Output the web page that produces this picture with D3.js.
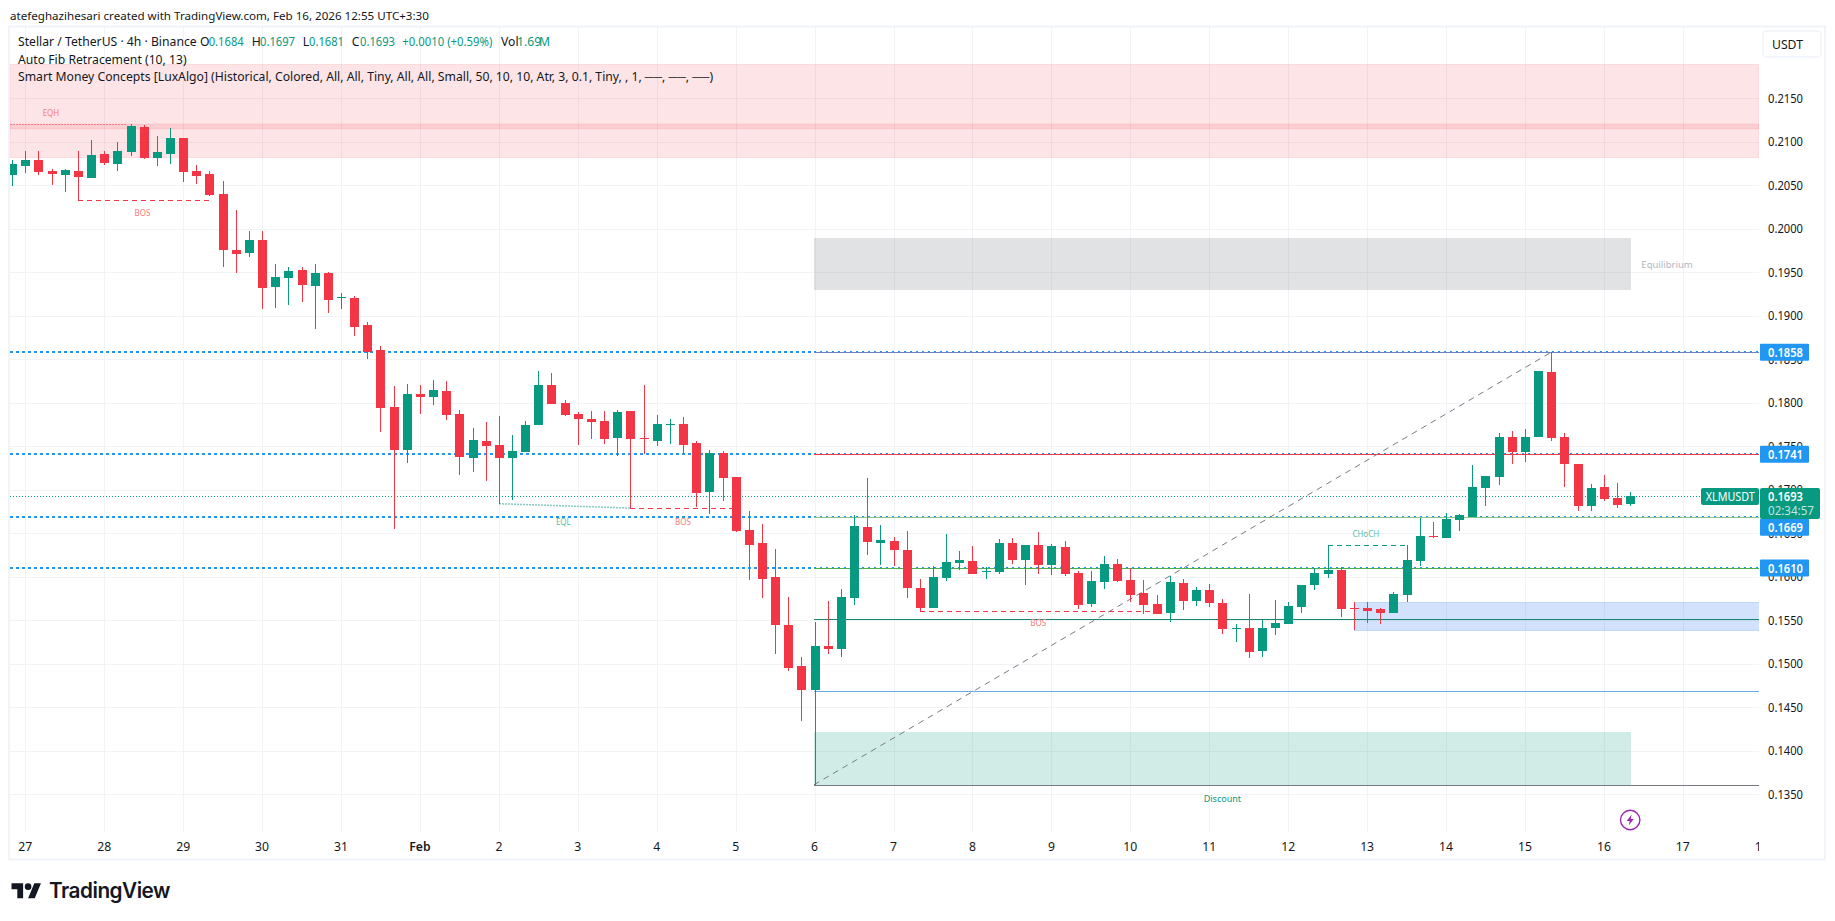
<!DOCTYPE html>
<html>
<head>
<meta charset="utf-8">
<script src="https://cdn.jsdelivr.net/npm/d3@7"></script>
<style>
  html, body { margin: 0; padding: 0; background: #fff; overflow: hidden; }
  text { font-family: "Noto Sans", sans-serif; }
</style>
</head>
<body>
<div id="chart"></div>
<script>
// XLMUSDT 4h candles, Jan 26 20:00 to Feb 16 08:00
const opens = [.2062,.2072,.2079,.2066,.2062,.2066,.2058,.2086,.2074,.2088,.2117,.2081,.2086,.2104,.2066,.2063,.2040,.1976,.1972,.1987,
  .1933,.1943,.1953,.1934,.1949,.1921,.1921,.1889,.1861,.1795,.1746,.1810,.1807,.1814,.1787,.1737,.1756,.1751,.1737,.1744,
  .1774,.1820,.1800,.1787,.1781,.1779,.1760,.1791,.1760,.1756,.1775,.1776,.1754,.1698,.1742,.1715,.1654,.1639,.1600,.1545,
  .1497,.1470,.1520,.1517,.1576,.1657,.1639,.1641,.1631,.1587,.1564,.1599,.1616,.1618,.1606,.1606,.1639,.1619,.1637,.1614,
  .1634,.1604,.1569,.1594,.1615,.1596,.1581,.1569,.1558,.1593,.1572,.1585,.1570,.1540,.1541,.1515,.1541,.1546,.1565,.1591,
  .1603,.1608,.1564,.1564,.1563,.1558,.1579,.1618,.1647,.1645,.1665,.1669,.1702,.1715,.1761,.1744,.1761,.1835,.1761,.1730,
  .1681,.1703,.1691,.1684]
const highs = [.2079,.2089,.2089,.2069,.2069,.2089,.2102,.2089,.2100,.2120,.2119,.2107,.2116,.2104,.2073,.2066,.2055,.2022,.1997,.1997,
  .1960,.1956,.1956,.1960,.1950,.1926,.1923,.1893,.1865,.1819,.1822,.1820,.1826,.1825,.1792,.1771,.1778,.1785,.1763,.1779,
  .1837,.1834,.1803,.1789,.1791,.1791,.1792,.1791,.1820,.1786,.1781,.1784,.1756,.1746,.1745,.1715,.1676,.1661,.1632,.1577,
  .1508,.1548,.1572,.1586,.1671,.1714,.1660,.1646,.1653,.1598,.1612,.1649,.1630,.1635,.1611,.1644,.1645,.1637,.1651,.1638,
  .1641,.1607,.1607,.1624,.1621,.1610,.1596,.1579,.1601,.1598,.1588,.1592,.1575,.1546,.1580,.1550,.1573,.1571,.1591,.1610,
  .1637,.1611,.1571,.1571,.1564,.1583,.1637,.1668,.1663,.1673,.1672,.1729,.1716,.1765,.1768,.1770,.1837,.1858,.1765,.1730,
  .1707,.1717,.1708,.1697]
const lows = [.2049,.2064,.2062,.2050,.2042,.2033,.2058,.2073,.2066,.2084,.2080,.2072,.2074,.2054,.2051,.2038,.1956,.1949,.1968,.1908,
  .1909,.1912,.1916,.1885,.1903,.1908,.1877,.1850,.1766,.1655,.1731,.1787,.1797,.1780,.1717,.1720,.1710,.1684,.1688,.1744,
  .1774,.1799,.1785,.1751,.1758,.1753,.1739,.1679,.1741,.1750,.1753,.1741,.1680,.1672,.1687,.1651,.1596,.1576,.1511,.1492,
  .1434,.1361,.1511,.1508,.1568,.1625,.1614,.1612,.1576,.1561,.1564,.1595,.1608,.1603,.1598,.1603,.1615,.1591,.1603,.1602,
  .1601,.1563,.1565,.1586,.1594,.1571,.1557,.1557,.1548,.1562,.1566,.1565,.1534,.1525,.1507,.1508,.1533,.1546,.1558,.1585,
  .1599,.1554,.1539,.1547,.1546,.1558,.1571,.1612,.1645,.1645,.1653,.1669,.1681,.1705,.1730,.1732,.1761,.1756,.1703,.1676,
  .1676,.1687,.1679,.1681]
const closes = [.2075,.2079,.2065,.2063,.2068,.2060,.2085,.2076,.2089,.2118,.2081,.2088,.2104,.2065,.2061,.2039,.1976,.1971,.1987,.1932,
  .1945,.1951,.1935,.1949,.1918,.1922,.1887,.1858,.1794,.1746,.1810,.1807,.1815,.1786,.1738,.1757,.1750,.1737,.1745,.1774,
  .1820,.1799,.1786,.1781,.1778,.1758,.1789,.1758,.1758,.1776,.1776,.1751,.1696,.1742,.1714,.1653,.1637,.1598,.1545,.1495,
  .1470,.1520,.1517,.1577,.1658,.1640,.1642,.1631,.1587,.1564,.1600,.1617,.1619,.1603,.1607,.1639,.1619,.1637,.1614,.1635,
  .1603,.1568,.1595,.1615,.1595,.1579,.1568,.1557,.1594,.1572,.1585,.1570,.1540,.1541,.1514,.1541,.1547,.1566,.1591,.1604,
  .1608,.1563,.1563,.1561,.1558,.1580,.1619,.1647,.1646,.1667,.1671,.1703,.1716,.1761,.1744,.1761,.1837,.1760,.1730,.1681,
  .1702,.1689,.1683,.1693]

const priceTicks = [.2150,.2100,.2050,.2000,.1950,.1900,.1850,.1800,.1750,.1700,.1650,.1600,.1550,.1500,.1450,.1400,.1350]
const dayLabels = ["27","28","29","30","31","Feb","2","3","4","5","6","7","8","9","10","11","12","13","14","15","16","17","18"]

// horizontal levels
const zigzagLevels = [.1858,.1741,.1669,.1610]
const fibLevels = [.1858,.1741,.1669,.1610,.1551,.1469,.1361]
const levelLabels = ["0.1858","0.1741","0.1669","0.1610"]
const supplyZone = [.2189,.2082]
const supplyInner = [.2120,.2115]
const equilibriumZone = [.1989,.1930]
const discountZone = [.1422,.1361]
const blockZone = [.1571,.1539]

const structureNames = ["BOS","BOS","BOS","CHoCH"]
const structureStart = [5,47,69,100]
const structureEnd = [15.3,55,86.5,106]
const structurePrice = [.2033,.1679,.1561,.1636]

const lastPrice = .1693

const width = 1835, height = 921
const paneLeft = 10, paneRight = 1759, paneTop = 27, paneBottom = 833
const green = "#089981", red = "#F23645", blue = "#2196F3", ink = "#131722", gridColor = "#f2f3f6"
const fibColors = ["#6b86bd","#f23645","#8bc48a","#4caf50","#17866f","#64a9e8","#787b86"]
const fibStart = 60.95, zoneEnd = 123.05

const svg = d3.select("#chart").append("svg")
    .attr("width", width)
    .attr("height", height)
    .style("display", "block")

const x = d3.scaleLinear().domain([1, 123]).range([25.3, 1630.2])
const y = d3.scaleLinear().domain([.135, .215]).range([794.3, 98.3])
const px = v => Math.round(x(v))
const py = v => Math.round(y(v))
const dayBar = i => 1 + i * 6

svg.append("clipPath").attr("id", "pane")
    .append("rect")
    .attr("x", paneLeft).attr("y", paneTop)
    .attr("width", paneRight - paneLeft).attr("height", paneBottom - paneTop)
svg.append("clipPath").attr("id", "timeaxis")
    .append("rect")
    .attr("x", paneLeft).attr("y", paneBottom)
    .attr("width", paneRight - paneLeft).attr("height", 27)

// frame
svg.append("rect")
    .attr("x", 9).attr("y", 26.5)
    .attr("width", 1816).attr("height", 833)
    .attr("fill", "none").attr("stroke", "#f0f3fa").attr("stroke-width", 2)

svg.append("text")
    .attr("x", 10).attr("y", 19.5)
    .attr("fill", ink).style("font-size", "11.6px")
    .text("atefeghazihesari created with TradingView.com, Feb 16, 2026 12:55 UTC+3:30")

const pane = svg.append("g").attr("clip-path", "url(#pane)")

// grid
pane.selectAll(".vgrid").data(dayLabels).join("line")
    .attr("x1", (d, i) => px(dayBar(i)) + .5).attr("x2", (d, i) => px(dayBar(i)) + .5)
    .attr("y1", paneTop).attr("y2", paneBottom)
    .attr("stroke", gridColor)
pane.selectAll(".hgrid").data(priceTicks).join("line")
    .attr("x1", paneLeft).attr("x2", paneRight)
    .attr("y1", d => py(d) + .5).attr("y2", d => py(d) + .5)
    .attr("stroke", gridColor)

// supply zone
pane.append("rect")
    .attr("x", paneLeft).attr("width", paneRight - paneLeft)
    .attr("y", py(supplyZone[0]) + .5).attr("height", py(supplyZone[1]) - py(supplyZone[0]))
    .attr("fill", "rgba(242,54,69,.13)").attr("stroke", "rgba(242,54,69,.12)")
pane.append("rect")
    .attr("x", paneLeft).attr("width", paneRight - paneLeft)
    .attr("y", py(supplyInner[0])).attr("height", py(supplyInner[1]) - py(supplyInner[0]))
    .attr("fill", "rgba(242,54,69,.13)").attr("stroke", "rgba(242,54,69,.1)")

// equilibrium, discount and order block
pane.append("rect")
    .attr("x", px(fibStart)).attr("width", px(zoneEnd) - px(fibStart))
    .attr("y", py(equilibriumZone[0])).attr("height", py(equilibriumZone[1]) - py(equilibriumZone[0]))
    .attr("fill", "rgba(120,123,134,.22)")
pane.append("rect")
    .attr("x", px(fibStart)).attr("width", px(zoneEnd) - px(fibStart))
    .attr("y", py(discountZone[0])).attr("height", py(discountZone[1]) - py(discountZone[0]))
    .attr("fill", "rgba(8,153,129,.19)")
pane.append("rect")
    .attr("x", px(102) + .5).attr("width", paneRight - px(102))
    .attr("y", py(blockZone[0]) + .5).attr("height", py(blockZone[1]) - py(blockZone[0]))
    .attr("fill", "rgba(35,110,240,.2)").attr("stroke", "rgba(35,110,240,.2)")

// dotted zigzag levels up to the fib start, thin ones after it
pane.selectAll(".zig").data(zigzagLevels).join("line")
    .attr("x1", paneLeft).attr("x2", px(fibStart))
    .attr("y1", d => py(d)).attr("y2", d => py(d))
    .attr("stroke", blue).attr("stroke-width", 2).attr("stroke-dasharray", "3 3")

pane.selectAll(".fib").data(fibLevels).join("line")
    .attr("x1", px(fibStart)).attr("x2", paneRight)
    .attr("y1", d => py(d) + .5).attr("y2", d => py(d) + .5)
    .attr("stroke", (d, i) => fibColors[i])
pane.selectAll(".zigthin").data(zigzagLevels).join("line")
    .attr("x1", px(fibStart)).attr("x2", paneRight)
    .attr("y1", d => py(d) - .5).attr("y2", d => py(d) - .5)
    .attr("stroke", blue).attr("stroke-dasharray", "2 4")

// fib trend line
pane.append("line")
    .attr("x1", px(fibStart)).attr("y1", y(.1361))
    .attr("x2", px(117)).attr("y2", y(.1858))
    .attr("stroke", "#787b86").attr("stroke-dasharray", "6 5")

// equal high / low
pane.append("line")
    .attr("x1", paneLeft).attr("x2", px(8.7))
    .attr("y1", py(.2120) + .5).attr("y2", py(.2120) + .5)
    .attr("stroke", "#f77c80").attr("stroke-dasharray", "2 1")
pane.append("line")
    .attr("x1", px(37)).attr("y1", y(.1684))
    .attr("x2", px(47)).attr("y2", y(.1679))
    .attr("stroke", "rgba(8,153,129,.5)").attr("stroke-width", 1.5).attr("stroke-dasharray", "2 1")

// structure breaks
pane.selectAll(".struct").data(structureNames).join("line")
    .attr("x1", (d, i) => px(structureStart[i])).attr("x2", (d, i) => px(structureEnd[i]))
    .attr("y1", (d, i) => py(structurePrice[i]) + .5).attr("y2", (d, i) => py(structurePrice[i]) + .5)
    .attr("stroke", d => d == "CHoCH" ? green : red)
    .attr("stroke-dasharray", "5 4")

// last price line, under the candles
pane.append("line")
    .attr("x1", paneLeft).attr("x2", 1701)
    .attr("y1", py(lastPrice) + .5).attr("y2", py(lastPrice) + .5)
    .attr("stroke", green).attr("stroke-dasharray", "1 2")

// candles, array index 1 is the Jan 27 00:00 bar
const candles = pane.append("g").selectAll("g").data(opens).join("g")
    .attr("fill", (d, i) => closes[i] >= d ? green : red)
candles.append("rect")
    .attr("x", (d, i) => px(i))
    .attr("width", 1)
    .attr("y", (d, i) => py(highs[i]))
    .attr("height", (d, i) => Math.max(1, py(lows[i]) - py(highs[i])))
candles.append("rect")
    .attr("x", (d, i) => px(i) - 4)
    .attr("width", 9)
    .attr("y", (d, i) => py(Math.max(d, closes[i])))
    .attr("height", (d, i) => Math.max(1, Math.abs(py(d) - py(closes[i]))))

// small chart labels
const noteData = [
    { t: "EQH", b: 2.95, p: .2134, c: "#f77c80", s: 8 },
    { t: "BOS", b: 9.9, p: .20185, c: "#f77c80", s: 8 },
    { t: "EQL", b: 41.9, p: .1664, c: "#5cbda9", s: 8 },
    { t: "BOS", b: 51, p: .1664, c: "#f77c80", s: 8 },
    { t: "BOS", b: 78, p: .1547, c: "#f77c80", s: 8 },
    { t: "CHoCH", b: 102.9, p: .1650, c: "#5cbda9", s: 8 },
    { t: "Equilibrium", b: 125.8, p: .1959, c: "#b2b5be", s: 9.5 },
    { t: "Discount", b: 92, p: .1345, c: green, s: 9 }
]
pane.selectAll(".note").data(noteData).join("text")
    .attr("x", d => x(d.b))
    .attr("y", d => y(d.p))
    .attr("text-anchor", "middle")
    .attr("dominant-baseline", "central")
    .attr("fill", d => d.c)
    .style("font-size", d => d.s + "px")
    .text(d => d.t)

// legend
const legend = svg.append("g").attr("fill", ink).style("font-size", "12.2px")
legend.append("text").attr("x", 18).attr("y", 46).text("Stellar / TetherUS · 4h · Binance")
const ohlcLetters = ["O", "H", "L", "C"]
const ohlcValues = ["0.1684", "0.1697", "0.1681", "0.1693"]
const ohlcLetterX = [200, 251.7, 302.7, 351.7]
const ohlcValueX = [208.7, 260, 309, 360]
ohlcLetters.forEach(function(l, i) {
    legend.append("text").attr("x", ohlcLetterX[i]).attr("y", 46).text(l)
    legend.append("text").attr("x", ohlcValueX[i]).attr("y", 46).attr("fill", green)
        .attr("textLength", 35).attr("lengthAdjust", "spacingAndGlyphs").text(ohlcValues[i])
})
legend.append("text").attr("x", 402.3).attr("y", 46).attr("fill", green)
    .attr("textLength", 90).attr("lengthAdjust", "spacingAndGlyphs").text("+0.0010 (+0.59%)")
legend.append("text").attr("x", 501).attr("y", 46).text("Vol")
legend.append("text").attr("x", 517).attr("y", 46).attr("fill", green).text("1.69")
legend.append("text").attr("x", 539).attr("y", 46).attr("fill", green).text("M")
legend.append("text").attr("x", 18).attr("y", 63.5).text("Auto Fib Retracement (10, 13)")
legend.append("text").attr("x", 18).attr("y", 80.5)
    .text("Smart Money Concepts [LuxAlgo] (Historical, Colored, All, All, Tiny, All, All, Small, 50, 10, 10, Atr, 3, 0.1, Tiny, , 1, ──, ──, ──)")

// time axis
svg.append("g").attr("clip-path", "url(#timeaxis)")
    .selectAll("text").data(dayLabels).join("text")
    .attr("x", (d, i) => x(dayBar(i)))
    .attr("y", 851)
    .attr("text-anchor", "middle")
    .attr("fill", ink)
    .style("font-size", "12.2px")
    .style("font-weight", d => d == "Feb" ? 600 : 400)
    .text(d => d)

// price axis
svg.append("g").selectAll("text").data(priceTicks).join("text")
    .attr("x", 1768)
    .attr("y", d => y(d))
    .attr("dominant-baseline", "central")
    .attr("fill", ink)
    .attr("textLength", 35).attr("lengthAdjust", "spacingAndGlyphs")
    .style("font-size", "12.6px")
    .text(d => d.toFixed(4))

// USDT button
svg.append("rect")
    .attr("x", 1763).attr("y", 31).attr("width", 58).attr("height", 26).attr("rx", 4)
    .attr("fill", "#fff").attr("stroke", "#f0f3fa").attr("stroke-width", 1.5)
svg.append("text")
    .attr("x", 1772).attr("y", 44)
    .attr("dominant-baseline", "central")
    .attr("fill", ink).style("font-size", "12.2px")
    .text("USDT")

// level tags, the 0.1669 tag is pushed down by the last price tag
const tagShift = [0, 0, 10.5, 0]
svg.selectAll(".tag").data(zigzagLevels).join("rect")
    .attr("x", 1760).attr("width", 49)
    .attr("y", (d, i) => y(d) - 8.5 + tagShift[i]).attr("height", 17).attr("rx", 1)
    .attr("fill", blue)
svg.selectAll(".tagtext").data(zigzagLevels).join("text")
    .attr("x", 1768)
    .attr("y", (d, i) => y(d) + tagShift[i])
    .attr("dominant-baseline", "central")
    .attr("fill", "#fff")
    .attr("textLength", 35).attr("lengthAdjust", "spacingAndGlyphs")
    .style("font-size", "12.6px").style("font-weight", 600)
    .text((d, i) => levelLabels[i])

// last price tag
svg.append("rect")
    .attr("x", 1760).attr("y", 488).attr("width", 60).attr("height", 31).attr("rx", 2)
    .attr("fill", green)
svg.append("text")
    .attr("x", 1768).attr("y", 496.5).attr("dominant-baseline", "central")
    .attr("fill", "#fff").style("font-size", "12.6px").style("font-weight", 600)
    .attr("textLength", 35).attr("lengthAdjust", "spacingAndGlyphs")
    .text(lastPrice.toFixed(4))
svg.append("text")
    .attr("x", 1768).attr("y", 510.5).attr("dominant-baseline", "central")
    .attr("fill", "#fff").attr("fill-opacity", .75).style("font-size", "12.6px")
    .attr("textLength", 46).attr("lengthAdjust", "spacingAndGlyphs")
    .text("02:34:57")
svg.append("rect")
    .attr("x", 1701).attr("y", 488).attr("width", 58).attr("height", 17).attr("rx", 2)
    .attr("fill", green)
svg.append("text")
    .attr("x", 1705.7).attr("y", 496.5).attr("dominant-baseline", "central")
    .attr("fill", "#fff").style("font-size", "12.2px")
    .attr("textLength", 49).attr("lengthAdjust", "spacingAndGlyphs")
    .text("XLMUSDT")

// lightning badge
const badge = svg.append("g").attr("transform", "translate(" + x(123) + ",820)")
badge.append("circle").attr("r", 9.7).attr("fill", "#fff")
    .attr("stroke", "#9c27b0").attr("stroke-width", 1.4)
badge.append("path").attr("d", "M1.5 -5.5 L-3.5 1 L-0.5 1 L-1.5 5.5 L3.5 -1 L0.5 -1 Z").attr("fill", "#9c27b0")

// TradingView logo
svg.append("g").attr("transform", "translate(11.5,880) scale(.83)").attr("fill", ink)
    .call(g => g.append("path").attr("d", "M14 22H7V11H0V4h14v18zM28 22h-8l7.5-18h8L28 22z"))
    .call(g => g.append("circle").attr("cx", 20).attr("cy", 8).attr("r", 4))
svg.append("text")
    .attr("x", 49).attr("y", 898)
    .attr("fill", ink)
    .style("font-family", "Inter")
    .style("font-size", "21px").style("font-weight", 600).style("letter-spacing", "-.5px")
    .attr("textLength", 121).attr("lengthAdjust", "spacingAndGlyphs")
    .text("TradingView")
</script>
</body>
</html>
